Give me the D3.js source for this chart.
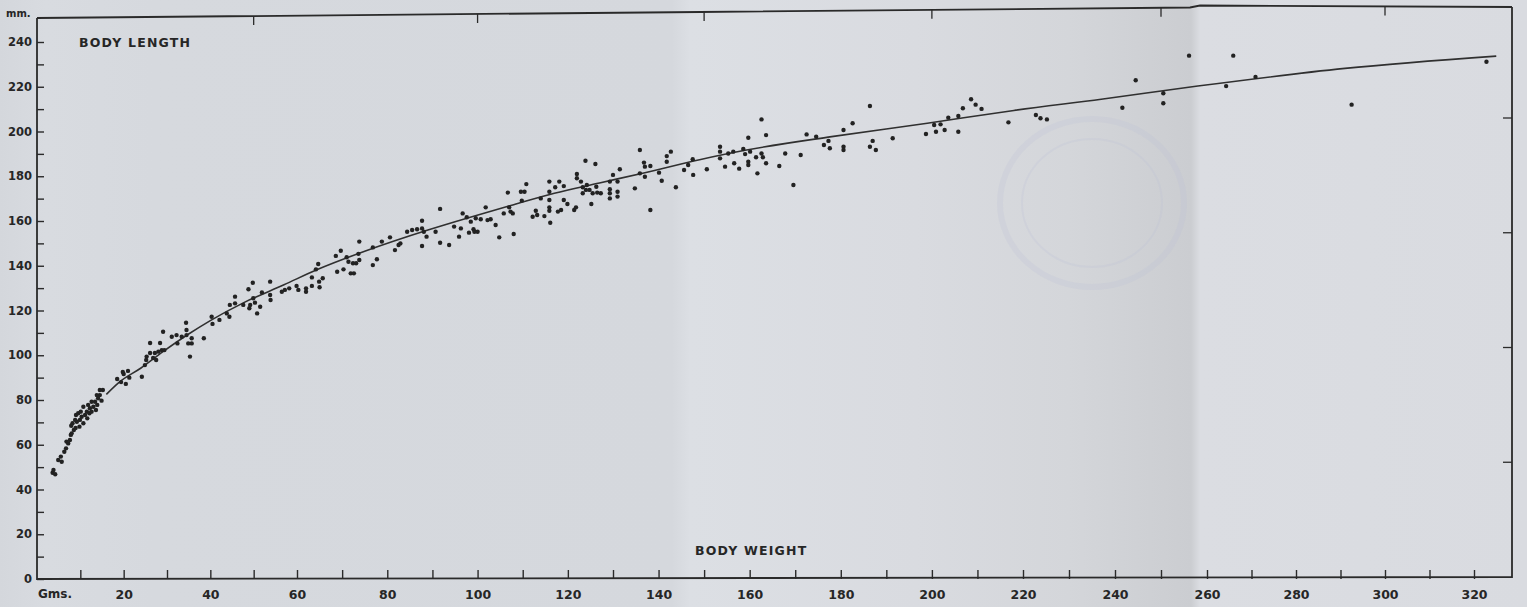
<!DOCTYPE html>
<html>
<head>
<meta charset="utf-8">
<script src="https://cdn.jsdelivr.net/npm/d3@7"></script>
<style>
	html, body { margin: 0; padding: 0; background: #d7dade; }
	svg { display: block; }
	text { font-family: "DejaVu Sans", sans-serif; font-weight: bold; fill: #262626; }
</style>
</head>
<body>
<svg id="chart" width="1527" height="607"></svg>
<script>
// Body weight (g) vs body length (mm)
const samples = [
	// smallest animals
	[3.6, 47.5], [3.8, 48.7], [4.2, 46.8], [4.9, 53.2], [5.5, 54.7], [5.7, 52.4], [6.3, 56.9],
	[6.7, 58.4], [6.8, 61.4], [7.2, 60.6], [7.6, 62.1], [7.8, 64.4], [8.0, 65.1], [8.5, 66.6],
	[8.2, 69.6], [7.9, 68.5], [9.2, 70.3], [9.0, 73.3], [9.5, 74.1], [9.8, 68.1], [9.9, 71.1],
	[10.3, 72.5], [10.7, 69.6], [11.1, 73.3], [11.5, 74.8], [11.6, 71.8], [12.1, 74.1], [12.2, 76.3],
	[12.6, 74.8], [13.0, 77.0], [13.4, 79.2], [13.6, 75.5], [13.9, 77.8], [14.1, 80.8], [14.5, 82.2],
	[14.9, 79.7], [15.2, 84.5], [14.5, 84.5], [13.8, 82.2], [12.6, 79.2], [11.8, 77.8], [10.7, 77.0],
	[10.1, 74.8], [8.8, 71.1], [8.9, 67.5],
	// 18 - 56 g
	[18.5, 89.4], [19.4, 88], [20, 91.6], [20.5, 87.2], [21, 93], [21.3, 90], [19.8, 92.5],
	[24.2, 90.4], [24.9, 95.6], [25.2, 97.9], [25.3, 99.4], [26.1, 101], [26.1, 105.5], [26.8, 98.8],
	[27.2, 101], [27.5, 97.9], [28, 101.6], [28.4, 105.5], [29.1, 110.5], [28.8, 102.3], [29.4, 102.3],
	[31.1, 108.3], [32.2, 109], [32.4, 105.3], [33.4, 108.3], [34.4, 114.5], [34.5, 111.3], [34.5, 109],
	[34.9, 105.3], [35.7, 107.6], [35.7, 105.3], [35.3, 99.4], [38.5, 107.6], [40.3, 117.2], [40.5, 114],
	[42.1, 115.8], [43.8, 118.7], [44.5, 122.5], [44.4, 117.2], [45.7, 126.2], [45.7, 123.2], [47.6, 122.5],
	[49, 121], [49.2, 122.5], [48.8, 129.5], [49.8, 132.4], [49.9, 125.5], [50.3, 123.5], [50.8, 118.7],
	[51.5, 121.7], [51.9, 128.1], [53.8, 132.9], [53.8, 126.9], [53.9, 124.7],
	// 56 - 148 g
	[56.5, 128.4], [57.2, 129.2], [58.2, 129.9], [59.9, 131], [60.3, 129.2], [62, 129.9], [62, 128.4],
	[63.3, 134.8], [63.3, 131], [64.7, 140.8], [64.2, 138.4], [64.9, 132.9], [65, 130.4], [65.7, 134.4],
	[68.6, 144.4], [68.9, 137.3], [69.7, 146.7], [70.3, 138.4], [71, 143.8], [71.4, 141.8], [71.9, 136.6],
	[72.4, 141.1], [72.6, 136.6], [73.1, 141.1], [73.6, 145.3], [73.8, 142.6], [73.8, 150.8], [76.8, 148.2],
	[76.8, 140.3], [77.7, 142.9], [78.8, 150.8], [80.6, 152.7], [81.7, 147], [82.5, 149.3], [82.9, 150],
	[84.4, 155.2], [85.5, 156], [86.6, 156.3], [87.7, 160.1], [87.7, 156.7], [88.1, 155.2], [88.7, 153],
	[87.7, 148.8], [90.7, 155.2], [91.7, 165.4], [91.7, 150.3], [93.7, 149.3], [94.8, 157.5], [95.9, 153],
	[96.3, 156.7], [96.7, 163.4], [97.6, 161.7], [98.1, 154.8], [98.5, 159.7], [99.1, 156.3], [99.3, 155.2],
	[99.6, 161.2], [100, 155.2], [100.7, 160.8], [101.8, 166.1], [102.2, 160.4], [102.9, 160.8], [104, 158.2],
	[104.8, 152.7], [105.8, 163.4], [106.7, 172.7], [107, 166.1], [107.3, 164.2], [107.8, 163.4], [108, 154.2],
	[109.6, 173.1], [110.4, 173.1], [110.8, 176.5], [109.8, 169.1], [112.2, 161.9], [112.9, 164.6], [113.2, 162.7],
	[114, 170.1], [114.8, 162.2], [115.9, 177.6], [115.9, 173.1], [115.9, 169.4], [115.9, 166.1], [115.9, 164.6],
	[116.1, 159.2], [117.2, 175.1], [118.1, 177.6], [117.8, 164.2], [118.5, 164.9], [119.1, 175.6], [119.1, 169.4],
	[119.9, 167.6], [121.4, 164.9], [121.8, 166.1], [122, 181], [122, 179.1], [122.9, 177.6], [123.3, 175.1],
	[123.3, 172.4], [124, 173.9], [124.2, 176.1], [124.8, 173.9], [125.2, 167.6], [125.5, 172.4], [126.3, 175.3],
	[126.5, 172.7], [127.3, 172.4], [123.9, 186.9], [126.1, 185.5], [129.3, 177.6], [129.3, 174.2], [129.3, 172.4],
	[129.3, 170.1], [130, 180.6], [131, 177.6], [131, 173.1], [131, 170.9], [131.5, 183.1], [134.8, 174.6],
	[135.9, 191.7], [135.9, 181.3], [136.8, 186.1], [137, 184.3], [137, 179.8], [138.2, 184.6], [138.2, 164.9],
	[140.1, 181.6], [140.7, 178], [141.8, 189], [141.8, 186.5], [142.7, 191], [143.8, 175.1], [145.6, 182.8],
	[146.5, 185], [147.5, 187.6], [147.6, 180.6],
	// 150 - 226 g
	[150.6, 183.1], [153.5, 193.2], [153.5, 191], [153.5, 188], [154.6, 184.3], [155.3, 190.2], [156.4, 191],
	[156.6, 185.8], [157.7, 183.4], [158.6, 192.2], [159, 189.9], [159.7, 197.2], [159.7, 186.5], [159.7, 185],
	[160.1, 191], [161.4, 188.5], [161.7, 181.3], [162.6, 205.4], [162.6, 190.2], [162.9, 188.5], [163.6, 198.4],
	[163.6, 185.8], [166.5, 184.6], [167.8, 190.2], [169.6, 176.1], [171.2, 189.5], [172.5, 198.7], [174.6, 197.7],
	[176.3, 194], [177.3, 195.8], [177.6, 192.5], [180.6, 200.7], [180.6, 193.2], [180.6, 191.7], [182.6, 203.7],
	[186.4, 211.4], [187, 195.8], [186.4, 193.2], [187.7, 191.7], [191.4, 197], [198.7, 198.9], [200.5, 202.9],
	[200.9, 199.9], [201.9, 203.2], [202.8, 200.7], [203.6, 206.2], [205.8, 206.9], [205.8, 199.9], [206.8, 210.4],
	[208.6, 214.4], [209.6, 212], [210.9, 210.1], [216.8, 204.1], [222.8, 207.4], [223.8, 205.9], [225.2, 205.4],
	// the largest ones
	[241.6, 210.6], [244.5, 222.9], [250.5, 217.1], [250.5, 212.6], [256.1, 233.9], [264.3, 220.3],
	[265.9, 233.9], [270.9, 224.4], [292.5, 212], [322.8, 231.2]
];

// the fitted line, read at intervals along the drawn curve
const curveWeight = [16, 19, 24, 29, 35, 40, 47.5, 57, 64.5, 75, 89, 98, 108, 117, 127, 137, 149, 159, 178, 199, 218, 237, 258, 291, 325];
const curveLength = [82.5, 88, 94.3, 101.5, 109.5, 115.5, 123.3, 131.5, 138.3, 146.5, 156, 161.5, 167.3, 172.4, 177, 181.6, 187.4, 191.6, 197.7, 203.7, 209.4, 214.4, 220.3, 228.2, 233.7];

const xTickValues = d3.range(10, 330, 10);
const yTickValues = d3.range(0, 250, 10);
const topTickValues = [50, 100, 150, 200, 250, 300];
const rightTickValues = [50, 100, 150, 200];

const svg = d3.select("svg#chart");
const width = +svg.attr("width");
const height = +svg.attr("height");

// paper with its fold shading
const paperStops = [
	[0, "#d4d7dc"], [0.03, "#d8dbe0"], [0.1, "#d6d9de"], [0.44, "#d5d8dd"], [0.452, "#dcdfe4"],
	[0.6, "#d9dbe0"], [0.7, "#d4d6da"], [0.78, "#cbcdd1"], [0.786, "#dbdde2"], [1, "#d9dbe0"]
];
const grad = svg.append("defs").append("linearGradient").attr("id", "paper");
paperStops.forEach(([o, c]) => grad.append("stop").attr("offset", o).attr("stop-color", c));
svg.append("rect").attr("width", width).attr("height", height).attr("fill", "url(#paper)");

// faint library stamp on the page
svg.append("g")
	.attr("fill", "none")
	.attr("stroke", "#bcc0d8")
	.attr("stroke-opacity", 0.22)
	.selectAll("ellipse")
	.data([[92, 84, 6], [70, 64, 2]])
	.join("ellipse")
	.attr("cx", 1092)
	.attr("cy", 203)
	.attr("rx", (d) => d[0])
	.attr("ry", (d) => d[1])
	.attr("stroke-width", (d) => d[2]);

// scan is slightly stretched, so the x scale is piecewise
const x = d3.scaleLinear([0, 60, 130, 220, 260, 320], [37, 297, 613, 1023, 1207, 1474]);
const y = d3.scaleLinear([0, 240], [579, 42]);
const yRight = d3.scaleLinear([0, 200], [577, 118]);
const xRight = 1512;
const topEdge = d3.scaleLinear([37, 700, 1190, 1200, 1512], [18, 12, 7.5, 5.5, 7]);

const ink = "#2a2a2a";

// frame
const frame = svg.append("g").attr("fill", "none").attr("stroke", ink).attr("stroke-width", 1.8);
frame.append("path").attr("d", d3.line()(topEdge.domain().map((px) => [px, topEdge(px)])));
frame.append("path").attr("d", d3.line()([[37, topEdge(37)], [37, 579], [xRight, 577], [xRight, topEdge(xRight)]]));

frame.selectAll("line.top")
	.data(topTickValues)
	.join("line")
	.attr("class", "top")
	.attr("x1", (d) => x(d))
	.attr("x2", (d) => x(d))
	.attr("y1", (d) => topEdge(x(d)))
	.attr("y2", (d) => topEdge(x(d)) + 9)
	.attr("stroke-width", 1.3);

frame.selectAll("line.right")
	.data(rightTickValues)
	.join("line")
	.attr("class", "right")
	.attr("x1", xRight)
	.attr("x2", xRight - 9)
	.attr("y1", (d) => yRight(d))
	.attr("y2", (d) => yRight(d))
	.attr("stroke-width", 1.3);

// axes
const xAxis = svg.append("g")
	.attr("transform", "translate(0,579)")
	.call(d3.axisBottom(x).tickValues(xTickValues).tickSize(-9).tickSizeOuter(0).tickPadding(11)
		.tickFormat((d) => (d % 20 === 0 ? d : "")))
	.call((g) => g.select(".domain").remove());
xAxis.selectAll(".tick line").attr("stroke", ink).attr("stroke-width", 1.4);
xAxis.selectAll(".tick text")
	.attr("fill", "#262626")
	.style("font-family", "'DejaVu Sans', sans-serif")
	.style("font-weight", "bold")
	.style("font-size", "12.5px");

const yAxis = svg.append("g")
	.attr("transform", "translate(37,0)")
	.call(d3.axisLeft(y).tickValues(yTickValues).tickSize(-7).tickSizeOuter(0).tickPadding(5)
		.tickFormat((d) => (d % 20 === 0 ? d : "")))
	.call((g) => g.select(".domain").remove());
yAxis.selectAll(".tick line").attr("stroke", ink).attr("stroke-width", 1.4);
yAxis.selectAll(".tick text")
	.attr("fill", "#262626")
	.style("font-family", "'DejaVu Sans', sans-serif")
	.style("font-weight", "bold")
	.style("font-size", "11.5px");

svg.append("text").attr("x", 6).attr("y", 17).style("font-size", "10px").text("mm.");
svg.append("text").attr("x", 38).attr("y", 598).style("font-size", "12px").text("Gms.");
svg.append("text").attr("x", 79).attr("y", 47).style("font-size", "12.5px").style("letter-spacing", "1.2px").text("BODY LENGTH");
svg.append("text").attr("x", 695).attr("y", 555).style("font-size", "12.5px").style("letter-spacing", "1.2px").text("BODY WEIGHT");

// fitted curve
const curve = d3.line()
	.x((d) => x(d[0]))
	.y((d) => y(d[1]))
	.curve(d3.curveMonotoneX);
svg.append("path")
	.attr("d", curve(d3.zip(curveWeight, curveLength)))
	.attr("fill", "none")
	.attr("stroke", "#303030")
	.attr("stroke-width", 1.6);

// individual animals
svg.append("g")
	.selectAll("circle")
	.data(samples)
	.join("circle")
	.attr("cx", (d) => x(d[0]))
	.attr("cy", (d) => y(d[1]))
	.attr("r", 2.2)
	.attr("fill", "#222");
</script>
</body>
</html>
